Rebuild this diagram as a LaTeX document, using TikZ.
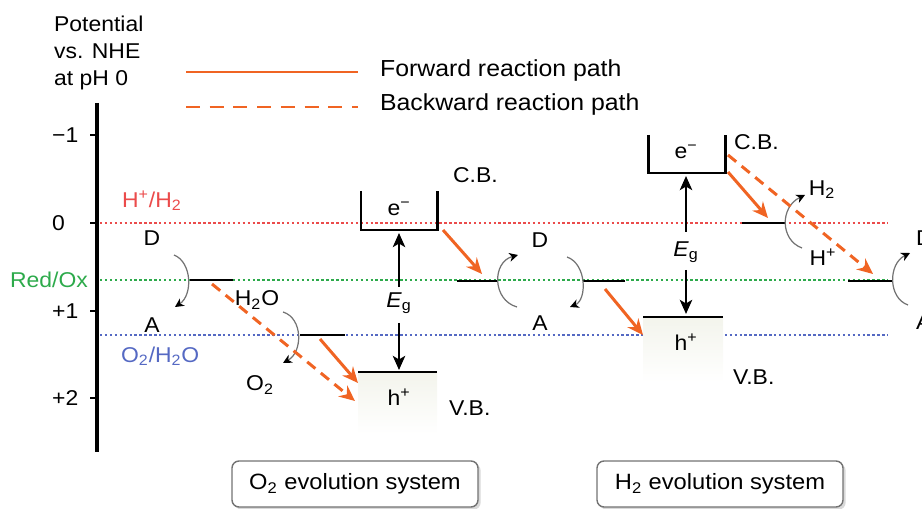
\documentclass[tikz,border=0pt]{standalone}
\usepackage{fontspec}
\setmainfont{Liberation Sans}[FakeStretch=1.07]
\usetikzlibrary{arrows.meta,positioning}
\definecolor{pathorange}{RGB}{240,100,35}
\definecolor{hhcol}{RGB}{235,75,75}
\definecolor{redoxcol}{RGB}{45,170,75}
\definecolor{oxcol}{RGB}{85,105,195}
\definecolor{vbcol}{RGB}{243,244,236}
\tikzset{
  txt/.style={inner sep=1pt},
  potline/.style={line width=0.9pt,dash pattern=on 1.4pt off 1.4pt},
  levelline/.style={line width=1.7pt},
  bandline/.style={line width=1.7pt},
  fwdpath/.style={pathorange,line width=1.7pt,-{Stealth[length=9pt,width=8pt,inset=3pt]}},
  bwdpath/.style={fwdpath,dash pattern=on 6pt off 4pt},
  egarrow/.style={line width=1.4pt,-{Stealth[length=8pt,width=7pt,inset=2pt]}},
  turnarrow/.style={black!55,line width=0.7pt,-{Stealth[length=5pt,width=5pt,inset=1.5pt,black]}},
  sysbox/.style={draw=black!55,line width=0.8pt,rounded corners=4pt,
    minimum width=246*0.02cm,minimum height=46*0.02cm,
    font=\fontsize{12.6}{15}\selectfont},
}
\begin{document}
\begin{tikzpicture}[x=0.02cm,y=-0.02cm,font=\fontsize{12.2}{15.3}\selectfont]
  \useasboundingbox (0,0) rectangle (922,509);

  % axis
  \node[txt,anchor=north west,align=left] (pot) at (52,14) {Potential\\vs. NHE\\at pH 0};
  \coordinate (axtop) at (97,103);
  \coordinate (axbot) at (97,452);
  \draw[line width=1.8pt] (axtop) -- (axbot);
  \foreach \v/\lab in {135/{−1},223/0,311/{+1},398/{+2}} {
    \draw[line width=1.2pt] (90,\v) -- (97,\v);
    \node[txt,anchor=west] at (50,\v) {\lab};
  }

  % legend
  \coordinate (fwda) at (186,72);
  \coordinate (fwdb) at (358,72);
  \coordinate (bwda) at (186,107);
  \coordinate (bwdb) at (358,107);
  \draw[pathorange,line width=1.7pt] (fwda) -- (fwdb);
  \draw[pathorange,line width=1.7pt,dash pattern=on 8pt off 5.5pt] (bwda) -- (bwdb);
  \node[txt,anchor=west,font=\fontsize{13.2}{15}\selectfont] (fwdtxt) at (378,71) {Forward reaction path};
  \node[txt,anchor=west,font=\fontsize{13.2}{15}\selectfont] (bwdtxt) at (378,105) {Backward reaction path};

  % potentials
  \draw[potline,hhcol] (100,223) -- (888,223);
  \draw[potline,redoxcol] (100,280) -- (888,280);
  \draw[potline,oxcol] (100,335) -- (888,335);
  \node[txt,anchor=west,hhcol] (hhlab) at (120,201) {H\textsuperscript{+}/H\textsubscript{2}};
  \node[txt,anchor=east,redoxcol] (redoxlab) at (90,280) {Red/Ox};
  \node[txt,anchor=west,oxcol] (oxlab) at (119,356) {O\textsubscript{2}/H\textsubscript{2}O};

  % O2 evolution system
  \shade[top color=vbcol,bottom color=white] (358,372) rectangle (437,434);
  \draw[bandline] (361,191) -- (361,230) -- (437,230) -- (437,191);
  \draw[bandline] (358,372) -- (437,372);
  \node[txt] (eO) at (399,209) {e\textsuperscript{−}};
  \node[txt] (hO) at (399,397) {h\textsuperscript{+}};
  \node[txt,anchor=west] (cbO) at (451,175) {C.B.};
  \node[txt,anchor=west] (vbO) at (447,408) {V.B.};
  \node[txt] (egO) at (399,303) {\textit{E}\textsubscript{g}};
  \draw[egarrow] (399,287) -- (399,233);
  \draw[egarrow] (399,323) -- (399,370);

  \draw[levelline] (190,280) -- (233,280);
  \node[txt] (dO) at (152,238) {D};
  \node[txt] (aO) at (152,325) {A};
  \draw[turnarrow] (174,255) .. controls (192,262) and (193,295) .. (175,307);

  \draw[levelline] (300,335) -- (345,335);
  \node[txt] (wO) at (257,300) {H\textsubscript{2}O};
  \node[txt] (oO) at (260,385) {O\textsubscript{2}};
  \draw[turnarrow] (283,312) .. controls (303,318) and (303,352) .. (283,363);

  \coordinate (cbOcorner) at (443,230);
  \coordinate (midlev) at (482,274);
  \coordinate (wlev) at (320,339);
  \coordinate (vbOin) at (358,383);
  \coordinate (redoxO) at (212,284);
  \coordinate (vbOlow) at (355,401);
  \draw[fwdpath] (cbOcorner) -- (midlev);
  \draw[fwdpath] (wlev) -- (vbOin);
  \draw[bwdpath] (redoxO) -- (vbOlow);

  % shared mediator
  \draw[levelline] (457,281) -- (498,281);
  \draw[levelline] (583,281) -- (625,281);
  \node[txt] (dM) at (540,240) {D};
  \node[txt] (aM) at (540,323) {A};
  \draw[turnarrow] (517,307) .. controls (492,300) and (492,262) .. (518,255);
  \draw[turnarrow] (567,257) .. controls (587,264) and (587,300) .. (570,307);

  % H2 evolution system
  \shade[top color=vbcol,bottom color=white] (643,317) rectangle (723,382);
  \draw[bandline] (648,135) -- (648,173) -- (725,173) -- (725,135);
  \draw[bandline] (643,317) -- (723,317);
  \node[txt] (eH) at (686,152) {e\textsuperscript{−}};
  \node[txt] (hH) at (686,342) {h\textsuperscript{+}};
  \node[txt,anchor=west] (cbH) at (732,142) {C.B.};
  \node[txt,anchor=west] (vbH) at (731,377) {V.B.};
  \node[txt] (egH) at (686,252) {\textit{E}\textsubscript{g}};
  \draw[egarrow] (686,232) -- (686,176);
  \draw[egarrow] (686,270) -- (686,314);

  \draw[levelline] (742,223) -- (785,223);
  \node[txt] (h2H) at (822,190) {H\textsubscript{2}};
  \node[txt] (hpH) at (823,257) {H\textsuperscript{+}};
  \draw[turnarrow] (802,248) .. controls (780,240) and (780,207) .. (805,195);

  \draw[levelline] (848,281) -- (893,281);
  \node[txt,anchor=west] (dR) at (914,238) {D};
  \node[txt,anchor=west] (aR) at (914,322) {A};
  \draw[turnarrow] (908,305) .. controls (888,298) and (888,264) .. (910,253);

  \coordinate (midlevR) at (605,289);
  \coordinate (vbHin) at (643,335);
  \coordinate (cbHcorner) at (728,172);
  \coordinate (hlev) at (768,218);
  \coordinate (cbHtop) at (728,155);
  \coordinate (rightlev) at (873,274);
  \draw[fwdpath] (midlevR) -- (vbHin);
  \draw[fwdpath] (cbHcorner) -- (hlev);
  \draw[bwdpath] (cbHtop) -- (rightlev);

  % system labels
  \node[sysbox,draw=none,fill=black!15,xshift=1.5pt,yshift=-1.5pt] at (355,484) {};
  \node[sysbox,fill=white] (o2sys) at (355,484) {O\textsubscript{2} evolution system};
  \node[sysbox,draw=none,fill=black!15,xshift=1.5pt,yshift=-1.5pt] at (720,484) {};
  \node[sysbox,fill=white] (h2sys) at (720,484) {H\textsubscript{2} evolution system};
\end{tikzpicture}
\end{document}
